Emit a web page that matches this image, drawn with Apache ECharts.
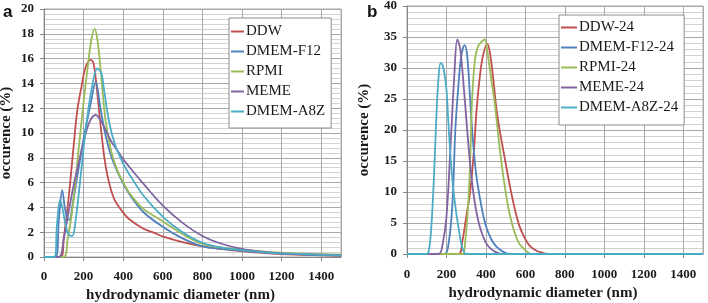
<!DOCTYPE html>
<html>
<head>
<meta charset="utf-8">
<script src="https://cdn.jsdelivr.net/npm/echarts@6/dist/echarts.min.js"></script>
<style>
  html, body { margin: 0; padding: 0; background: #fff; }
  #chart { width: 708px; height: 303px; }
</style>
</head>
<body>
<div id="chart"></div>
<script>
// panel a - fresh dispersions
var ddwX  = [0, 85, 100, 126, 150, 168, 190, 210, 236, 250, 262, 275, 290, 305, 320, 337, 360, 404, 434, 500, 556, 603, 700, 800, 900, 1000, 1100, 1200, 1350, 1500];
var ddwY  = [0, 0, 1.5, 5.0, 9.0, 11.8, 13.8, 15.3, 15.9, 15.6, 14.3, 12.3, 10.0, 8.0, 6.6, 5.5, 4.5, 3.5, 3.0, 2.3, 1.95, 1.65, 1.2, 0.85, 0.63, 0.47, 0.33, 0.23, 0.15, 0.1];
var f12X  = [0, 58, 75, 92, 105, 118, 128, 145, 168, 202, 236, 261, 286, 311, 340, 370, 404, 434, 500, 603, 700, 800, 900, 1000, 1100, 1200, 1350, 1500];
var f12Y  = [0, 0, 3.0, 5.4, 4.0, 3.1, 3.0, 4.3, 6.5, 9.7, 12.4, 14.1, 11.9, 9.8, 8.1, 6.9, 5.8, 5.0, 3.65, 2.4, 1.5, 0.85, 0.65, 0.5, 0.38, 0.28, 0.18, 0.12];
var rpmiX = [0, 98, 120, 143, 177, 200, 219, 240, 256, 270, 286, 311, 340, 370, 404, 434, 500, 603, 700, 800, 900, 1000, 1100, 1200, 1350, 1500];
var rpmiY = [0, 0, 1.5, 3.8, 9.0, 12.5, 15.1, 17.6, 18.4, 17.5, 15.1, 11.0, 8.5, 7.0, 5.9, 5.1, 3.9, 2.85, 1.85, 1.05, 0.75, 0.6, 0.45, 0.35, 0.25, 0.18];
var memeX = [0, 75, 100, 126, 150, 168, 202, 230, 261, 290, 337, 370, 404, 434, 505, 603, 700, 800, 900, 1000, 1100, 1200, 1350, 1500];
var memeY = [0, 0, 1.5, 3.8, 5.8, 7.1, 9.4, 10.9, 11.45, 10.9, 9.4, 8.6, 7.8, 7.2, 5.85, 4.1, 2.75, 1.7, 1.05, 0.65, 0.43, 0.3, 0.2, 0.15];
var a8zX  = [0, 52, 65, 81, 95, 110, 125, 143, 160, 185, 210, 240, 270, 290, 303, 330, 360, 404, 434, 500, 603, 700, 800, 900, 1000, 1100, 1200, 1350, 1500];
var a8zY  = [0, 0, 2.5, 4.6, 3.8, 2.5, 1.8, 1.7, 3.0, 6.5, 10.2, 13.5, 15.2, 14.8, 13.5, 10.8, 9.0, 7.4, 6.6, 5.0, 3.2, 2.0, 1.15, 0.75, 0.55, 0.4, 0.3, 0.2, 0.13];

// panel b - after 24 h
var ddw24X  = [0, 260, 280, 300, 320, 340, 352, 369, 385, 407, 420, 436, 454, 475, 495, 520, 546, 570, 596, 620, 647, 680, 715, 1500];
var ddw24Y  = [0, 0, 2, 6, 10, 17, 23, 28.6, 32, 33.9, 32.5, 28.6, 23.2, 19, 15.5, 11.2, 7.3, 4.5, 2.6, 1.4, 0.7, 0.25, 0, 0];
var f1224X  = [0, 190, 210, 230, 245, 260, 275, 292, 305, 318, 330, 350, 377, 400, 425, 450, 480, 520, 1500];
var f1224Y  = [0, 0, 1.5, 8, 20, 27, 32, 33.7, 32, 26, 20, 13, 7.7, 4.5, 2.5, 1.3, 0.5, 0, 0];
var rpmi24X = [0, 280, 295, 310, 320, 330, 345, 360, 380, 394, 410, 430, 444, 470, 495, 520, 546, 570, 600, 630, 1500];
var rpmi24Y = [0, 0, 2, 8, 15, 25, 31.5, 33.5, 34.3, 34.6, 32, 27.5, 24.5, 17, 11, 6.5, 3.4, 1.6, 0.6, 0, 0];
var meme24X = [0, 160, 180, 200, 220, 240, 255, 270, 290, 300, 320, 340, 360, 380, 400, 420, 450, 480, 1500];
var meme24Y = [0, 0, 1.5, 6, 17, 29, 34.6, 33, 26, 22, 14.5, 9, 5.5, 3.3, 1.8, 1.0, 0.3, 0, 0];
var a8z24X  = [0, 100, 110, 120, 130, 140, 150, 160, 170, 180, 190, 200, 210, 220, 230, 240, 250, 260, 270, 280, 290, 300, 1500];
var a8z24Y  = [0, 0, 0.5, 3, 8, 15, 23, 28.5, 30.8, 30.5, 29, 26.5, 21, 16, 12, 9, 6.5, 4.5, 2.5, 1, 0.3, 0, 0];

var namesA = ['DDW', 'DMEM-F12', 'RPMI', 'MEME', 'DMEM-A8Z'];
var namesB = ['DDW-24', 'DMEM-F12-24', 'RPMI-24', 'MEME-24', 'DMEM-A8Z-24'];
var colors = ['#C0504D', '#4F81BD', '#9BBB59', '#8064A2', '#4BACC6'];

function pairs(xs, ys) {
  return xs.map(function (x, i) { return [x, ys[i]]; });
}

var seriesA = [[ddwX, ddwY], [f12X, f12Y], [rpmiX, rpmiY], [memeX, memeY], [a8zX, a8zY]];
var seriesB = [[ddw24X, ddw24Y], [f1224X, f1224Y], [rpmi24X, rpmi24Y], [meme24X, meme24Y], [a8z24X, a8z24Y]];

var serif = '"Liberation Serif", "Times New Roman", serif';
var labelStyle = { fontFamily: serif, fontWeight: 'bold', fontSize: 13, color: '#1a1a1a' };
var nameStyle = { fontFamily: serif, fontWeight: 'bold', fontSize: 15, color: '#1a1a1a' };

function xAxis(gi) {
  return {
    type: 'value', gridIndex: gi, min: 0, max: 1500, interval: 200,
    name: 'hydrodynamic diameter (nm)', nameLocation: 'middle', nameGap: gi === 0 ? 30 : 31,
    nameTextStyle: Object.assign({ padding: [0, 24, 0, 0] }, nameStyle),
    axisLine: { lineStyle: { color: '#868686' } },
    axisTick: { show: true, length: 4, lineStyle: { color: '#868686' } },
    axisLabel: Object.assign({ margin: gi === 0 ? 13 : 14, formatter: function (v) { return String(v); } }, labelStyle),
    splitLine: { show: true, lineStyle: { color: '#a9a9a9' } }
  };
}
function yAxis(gi, max, step) {
  return {
    type: 'value', gridIndex: gi, min: 0, max: max, interval: step,
    name: 'occurence (%)', nameLocation: 'middle', nameGap: gi === 0 ? 30 : 35,
    nameTextStyle: nameStyle,
    axisLine: { show: true, lineStyle: { color: '#868686' } },
    axisTick: { show: true, length: 4, lineStyle: { color: '#868686' } },
    axisLabel: Object.assign({ margin: 10 }, labelStyle),
    splitLine: { show: true, lineStyle: { color: '#a9a9a9' } },
    minorTick: { show: false, splitNumber: 5 },
    minorSplitLine: { show: true, lineStyle: { color: '#d2d2d2' } }
  };
}

var series = [];
seriesA.forEach(function (s, i) {
  series.push({
    name: namesA[i], type: 'line', xAxisIndex: 0, yAxisIndex: 0,
    data: pairs(s[0], s[1]), showSymbol: false, smooth: 0.35,
    lineStyle: { width: 1.8, color: colors[i] }, itemStyle: { color: colors[i] }
  });
});
seriesB.forEach(function (s, i) {
  series.push({
    name: namesB[i], type: 'line', xAxisIndex: 1, yAxisIndex: 1,
    data: pairs(s[0], s[1]), showSymbol: false, smooth: 0.35,
    lineStyle: { width: 1.8, color: colors[i] }, itemStyle: { color: colors[i] }
  });
});

function legend(names, left, top, iw, pad) {
  return {
    data: names, orient: 'vertical', left: left, top: top,
    icon: 'rect', itemWidth: iw, itemHeight: 2, itemGap: 5,
    padding: pad, borderColor: '#8c8c8c', borderWidth: 1, backgroundColor: '#fff',
    textStyle: { fontFamily: serif, fontSize: 15, color: '#1a1a1a', padding: [0, 0, 0, -3] }
  };
}

var chart = echarts.init(document.getElementById('chart'), null, { renderer: 'canvas' });
chart.setOption({
  animation: false,
  backgroundColor: '#fff',
  color: colors,
  grid: [
    { left: 44, right: 367, top: 9, bottom: 46, outerBoundsMode: 'none', show: true, borderColor: '#a9a9a9', borderWidth: 1 },
    { left: 407, right: 5, top: 6, bottom: 49, outerBoundsMode: 'none', show: true, borderColor: '#a9a9a9', borderWidth: 1 }
  ],
  xAxis: [xAxis(0), xAxis(1)],
  yAxis: [yAxis(0, 20, 2), yAxis(1, 40, 5)],
  legend: [
    legend(namesA, 229, 18, 13, [6, 6, 9, 2]),
    legend(namesB, 559, 15, 16, [5, 6, 10, 2])
  ],
  graphic: [
    { type: 'text', left: 3, top: 4, style: { text: 'a', font: 'bold 17px "Liberation Sans", Arial, sans-serif', fill: '#111' } },
    { type: 'text', left: 367, top: 4, style: { text: 'b', font: 'bold 17px "Liberation Sans", Arial, sans-serif', fill: '#111' } }
  ],
  series: series
});
</script>
</body>
</html>
